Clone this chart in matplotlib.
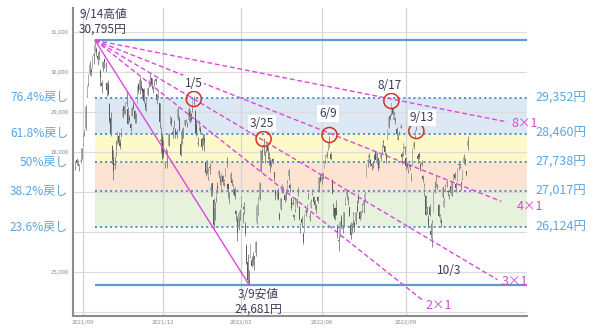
import numpy as np
import pandas as pd
import matplotlib
matplotlib.use("Agg")
import matplotlib.pyplot as plt
import matplotlib.transforms as mtransforms

# Nikkei 225 daily candles, 2021/08/24 - 2022/11/11
holidays = ['2021-09-20', '2021-09-23', '2021-11-03', '2021-11-23', '2021-12-31',
            '2022-01-03', '2022-01-10', '2022-02-11', '2022-02-23', '2022-03-21',
            '2022-04-29', '2022-05-03', '2022-05-04', '2022-05-05', '2022-07-18',
            '2022-08-11', '2022-09-19', '2022-09-23', '2022-10-10', '2022-11-03']

opens = [
    27620, 27810, 27700, 27600, 27770, 27830,
    28180, 28470, 28610, 29390, 29720, 29960, 30060, 30130, 30390, 30530, 30580, 30410, 30460, 30030, 29720, 30100, 30330, 30160, 29720, 29680,
    29210, 28850, 28140, 27840, 27700, 28000, 28220, 28400, 28220, 28420, 28870, 29150, 29030, 29200, 29080, 28850, 28690, 28900, 29170, 29030, 28900,
    29230, 29690, 29560, 29660, 29600, 29570, 29200, 29080, 29420, 29720, 29740, 29840, 29620, 29720, 29830, 29460, 29410, 29220, 28300, 28380,
    28060, 27720, 28010, 27920, 28160, 28750, 28820, 28510, 28600, 28550, 28510, 28820, 28830, 28210, 28280, 28550, 28680, 28770, 28710, 28790, 29010, 28960,
    29100, 29290, 29020, 28710, 28200, 28590, 28580, 28320, 28350, 28330, 27760, 27540, 27380, 27630, 27030, 27220, 26790, 26590, 26880,
    27140, 27420, 27310, 27080, 27400, 27230, 27430, 27700, 27210, 26880, 27290, 27300, 27000, 27070, 26520, 26300, 26130, 26360,
    26680, 26410, 26630, 26170, 25640, 25250, 24780, 25370, 25300, 25360, 25390, 25470, 26240, 26470, 26830, 27520, 28070, 28170, 27900, 28110, 28150, 27880,
    27780, 27730, 27820, 27490, 27040, 26980, 27040, 26460, 26580, 27010, 26990, 26930, 26890, 27020, 27400, 27180, 26860, 26720, 26420, 26540,
    26700, 27010, 26620, 26100, 26320, 25960, 25990, 26480, 26580, 26890, 26340, 26620, 26980, 26880, 26760, 26630, 26870, 27030, 27380,
    27300, 27370, 27600, 27790, 27880, 28100, 28160, 27950, 27300, 26660, 26610, 26600, 26130, 25800, 25900, 26370, 26080, 26190, 26700, 26900, 26800, 26620,
    26180, 26000, 26310, 26230, 26270, 26640, 26860, 26500, 26370, 26560, 26680, 26820, 27370, 27740, 27850, 27800, 27710, 27640, 27930, 28000,
    27740, 27840, 27630, 27850, 28000, 28250, 28150, 27960, 28350, 28620, 28890, 28970, 29100, 28860, 28790, 28580, 28360, 28460, 28600, 27950, 27940, 28120,
    27850, 27700, 27560, 27680, 27390, 27690, 28120, 28400, 28590, 27900, 27940, 27690, 27730, 27410, 26980, 26900, 26500, 26360, 26630, 26020,
    25850, 26510, 27110, 27210, 27150, 26670, 26270, 26280, 26870, 26630, 27080, 27220, 27020, 26870, 27160, 26960, 27330, 27440, 27200, 27290,
    27690, 27620, 27230, 27350, 27730, 27800, 27520, 28150,
]
highs = [
    27780, 27850, 27800, 27700, 27850, 28110,
    28480, 28570, 29180, 29680, 29940, 30270, 30110, 30400, 30500, 30795, 30620, 30480, 30560, 30080, 29790, 30270, 30350, 30260, 29740, 29800,
    29230, 28990, 28170, 28050, 27890, 28300, 28530, 28490, 28330, 28600, 29100, 29150, 29260, 29490, 29120, 28930, 28730, 29120, 29240, 29050, 28970,
    29660, 29720, 29880, 29800, 29610, 29600, 29260, 29330, 29630, 29790, 29960, 29840, 29660, 29790, 29850, 29460, 29540, 29230, 28630, 28440,
    28290, 27760, 28100, 28040, 28480, 28890, 28870, 28620, 28800, 28590, 28570, 29120, 28890, 28290, 28600, 28620, 28800, 28830, 28760, 29120, 29040, 28980,
    29320, 29388, 29050, 28820, 28370, 28800, 28650, 28340, 28440, 28440, 27800, 27800, 27590, 27720, 27230, 27220, 26860, 26750, 27050,
    27240, 27560, 27420, 27480, 27420, 27330, 27610, 27880, 27230, 27000, 27500, 27330, 27200, 27130, 26550, 26410, 26500, 26580,
    26900, 26500, 26740, 26240, 25690, 25450, 25040, 25700, 25400, 25490, 25410, 25780, 26710, 26880, 27260, 28050, 28130, 28338, 28030, 28250, 28160, 28000,
    27860, 27800, 27840, 27500, 27040, 27010, 27090, 26500, 26850, 27200, 27140, 26960, 27070, 27290, 27580, 27220, 26860, 26830, 26460, 26870,
    26850, 27120, 26640, 26220, 26400, 26000, 26450, 26580, 26690, 26980, 26490, 26830, 27080, 26900, 26800, 26700, 26900, 27370, 27460,
    27500, 27480, 27770, 27930, 28020, 28260, 28389, 27990, 27320, 26720, 26620, 26800, 26190, 25900, 26280, 26420, 26200, 26500, 26880, 27060, 26900, 26620,
    26250, 26230, 26500, 26280, 26500, 26800, 26980, 26520, 26530, 26720, 26820, 27000, 27700, 27830, 27980, 27820, 27720, 27780, 27940, 28020,
    28000, 27860, 27790, 27960, 28180, 28300, 28160, 27970, 28570, 28890, 28950, 29222, 29130, 29000, 28880, 28620, 28420, 28520, 28690, 27990, 28230, 28140,
    27870, 27760, 27630, 27680, 27480, 28090, 28270, 28560, 28659, 27930, 28000, 27720, 27810, 27420, 27230, 26930, 26660, 26420, 26710, 26230,
    26300, 26990, 27280, 27400, 27200, 26700, 26450, 26340, 27150, 26850, 27190, 27300, 27040, 26960, 27180, 27270, 27440, 27500, 27240, 27600,
    27730, 27730, 27280, 27550, 27960, 27840, 27520, 28390,
]
lows = [
    27560, 27680, 27640, 27530, 27730, 27820,
    28150, 28390, 28560, 29370, 29650, 29920, 29890, 30110, 30200, 30500, 30400, 30180, 30310, 29650, 29480, 30020, 30100, 30000, 29400, 29420,
    28720, 28400, 27700, 27290, 27580, 27890, 28200, 28170, 28080, 28380, 28840, 28940, 28960, 29150, 28700, 28750, 28510, 28890, 29050, 28730, 28720,
    29220, 29470, 29440, 29550, 29350, 29220, 29040, 29020, 29400, 29620, 29650, 29580, 29470, 29640, 29700, 29200, 29350, 28600, 27970, 27820,
    27880, 27590, 27950, 27600, 28150, 28700, 28640, 28360, 28600, 28360, 28350, 28790, 28520, 27890, 28190, 28360, 28650, 28740, 28620, 28780, 28730, 28780,
    29000, 29180, 28440, 28410, 28150, 28560, 28450, 28040, 28180, 28030, 27400, 27440, 27290, 27440, 26890, 26910, 26044, 26310, 26760,
    26980, 27350, 27170, 27010, 27170, 27140, 27400, 27620, 26850, 26720, 27250, 27180, 26940, 26830, 26280, 25780, 26050, 26300,
    26620, 26230, 26460, 25890, 25210, 24760, 24681, 25340, 25120, 25170, 25060, 25390, 26210, 26420, 26790, 27500, 27800, 27950, 27730, 28000, 27900, 27680,
    27510, 27630, 27700, 27280, 26790, 26820, 26790, 26300, 26560, 26970, 26980, 26760, 26790, 27010, 27300, 26990, 26550, 26680, 26300, 26510,
    26620, 26900, 26290, 25980, 26150, 25690, 25990, 26390, 26510, 26830, 26270, 26590, 26920, 26690, 26570, 26470, 26730, 27010, 27250,
    27210, 27330, 27590, 27720, 27860, 28050, 28130, 27800, 26940, 26400, 26290, 26420, 25850, 25520, 25880, 26100, 25980, 26160, 26670, 26830, 26680, 26390,
    25820, 25980, 26180, 25990, 26200, 26490, 26720, 26300, 26370, 26490, 26470, 26770, 27370, 27620, 27790, 27650, 27540, 27590, 27750, 27760,
    27710, 27530, 27600, 27770, 27950, 28120, 27930, 27730, 28330, 28610, 28800, 28930, 28820, 28790, 28700, 28400, 28300, 28420, 28590, 27700, 27900, 27940,
    27560, 27600, 27480, 27550, 27270, 27680, 28080, 28370, 28550, 27730, 27830, 27520, 27650, 27250, 26900, 26420, 26440, 26090, 26400, 25860,
    25621, 26500, 26970, 27160, 27070, 26380, 26250, 26120, 26850, 26620, 27050, 27130, 26900, 26830, 26930, 26900, 27290, 27330, 27000, 27280,
    27540, 27590, 27050, 27310, 27710, 27670, 27400, 28060,
]
closes = [
    27732, 27724, 27742, 27641, 27789, 28089,
    28451, 28543, 29128, 29659, 29916, 30181, 30008, 30381, 30447, 30670, 30511, 30323, 30500, 29839, 29639, 30248, 30240, 30183, 29544, 29452,
    28771, 28444, 27822, 27528, 27678, 28048, 28498, 28230, 28140, 28550, 29068, 29025, 29215, 29255, 28708, 28804, 28600, 29106, 29098, 28820, 28892,
    29647, 29520, 29794, 29611, 29507, 29286, 29106, 29277, 29610, 29777, 29808, 29688, 29598, 29745, 29774, 29303, 29499, 28751, 28283, 27821,
    27935, 27753, 28029, 27927, 28455, 28860, 28725, 28437, 28640, 28432, 28459, 29066, 28545, 27937, 28517, 28562, 28798, 28782, 28676, 29069, 28906, 28791,
    29301, 29332, 28487, 28478, 28222, 28765, 28489, 28124, 28333, 28257, 27467, 27772, 27522, 27588, 27131, 27011, 26170, 26717, 27001,
    27078, 27533, 27241, 27439, 27248, 27284, 27579, 27696, 27079, 26865, 27460, 27232, 27122, 26910, 26449, 25970, 26476, 26526,
    26844, 26393, 26577, 25985, 25221, 24790, 24717, 25690, 25162, 25307, 25346, 25762, 26652, 26827, 27224, 28040, 28110, 28149, 27943, 28252, 28027, 27821,
    27665, 27736, 27787, 27350, 26888, 26985, 26821, 26334, 26843, 27172, 27093, 26799, 26985, 27217, 27553, 27105, 26590, 26700, 26386, 26847,
    26818, 27003, 26319, 26167, 26213, 25748, 26427, 26547, 26659, 26911, 26402, 26739, 27001, 26748, 26677, 26604, 26781, 27369, 27279,
    27457, 27413, 27761, 27915, 27943, 28234, 28246, 27824, 26987, 26629, 26326, 26431, 25963, 25771, 26246, 26149, 26171, 26491, 26871, 27049, 26804, 26393,
    25935, 26153, 26423, 26107, 26490, 26517, 26812, 26336, 26478, 26643, 26788, 26961, 27680, 27803, 27915, 27700, 27655, 27716, 27815, 27802,
    27993, 27594, 27742, 27932, 28176, 28249, 27999, 27819, 28547, 28871, 28868, 29222, 28942, 28930, 28795, 28452, 28313, 28479, 28641, 27878, 28195, 28091,
    27661, 27650, 27619, 27626, 27430, 28065, 28214, 28542, 28614, 27818, 27875, 27567, 27688, 27313, 27153, 26431, 26571, 26173, 26422, 25937,
    26215, 26992, 27120, 27311, 27116, 26401, 26397, 26237, 27090, 26775, 27156, 27257, 27006, 26891, 26974, 27250, 27432, 27345, 27105, 27587,
    27678, 27663, 27199, 27527, 27872, 27716, 27446, 28263,
]

# retracement levels as printed on the chart
fib_prices = [29352, 28460, 27738, 27017, 26124]
fib_names = ['76.4%戻し', '61.8%戻し', '50%戻し', '38.2%戻し', '23.6%戻し']
band_colors = ['#dde8f5', '#fdf9c8', '#fde3d2', '#e7f2dd']

# Gann fan lines: fraction of the 1x1 slope, label, end position (trading day index)
fan_ratios = [1 / 8, 2 / 8, 3 / 8, 4 / 8, 1]
fan_names = ['8×1', '4×1', '3×1', '2×1', '']
fan_ends = [328, 323.5, 320.5, 263.5, None]
fan_offsets = [(3, -1), (11, -4), (3, -1), (2, -4), (0, 0)]

# circled touch points
touch_dates = ['2022-01-05', '2022-03-25', '2022-06-09', '2022-08-17', '2022-09-13']
touch_values = [29325, 28325, 28425, 29275, 28525]
touch_names = ['1/5', '3/25', '6/9', '8/17', '9/13']
touch_offsets = [(0, 11.5), (-1, 11.5), (-1, 15.5), (-1, 11.5), (4, 9.5)]

tick_months = ['2021-09', '2021-12', '2022-03', '2022-06', '2022-09']
tick_names = ['2021/09', '2021/12', '2022/03', '2022/06', '2022/09']

plt.rcParams['font.family'] = ['Noto Sans CJK JP', 'DejaVu Sans']

dates = pd.bdate_range('2021-08-24', '2022-11-11', freq='C', holidays=holidays)
o = np.array(opens)
h = np.array(highs)
l = np.array(lows)
c = np.array(closes)
x = np.arange(len(dates))

fig = plt.figure(figsize=(6.0, 3.29), dpi=100)
ax = fig.add_axes([73 / 600, 13 / 329, 454 / 600, 308 / 329])
xmin, xmax = -1.7, 343
ax.set_xlim(xmin, xmax)
ax.set_ylim(23900, 31600)

hi_i = int(np.argmax(h))
lo_i = int(np.argmin(l))
hi, lo = h[hi_i], l[lo_i]

# grid
for v in range(24000, 31001, 1000):
    ax.axhline(v, color='#dcdcdc', lw=0.9, zorder=1)
tick_idx = [int(np.searchsorted(dates, pd.Timestamp(m + '-01'))) for m in tick_months]
for t in tick_idx:
    ax.axvline(t, color='#d4d4d4', lw=0.9, zorder=1)

# retracement bands
for i, col in enumerate(band_colors):
    ax.fill_between([hi_i, xmax], fib_prices[i + 1], fib_prices[i], color=col, lw=0, zorder=0.5)

# candles
up = c >= o
ax.vlines(x, l, h, color='#7a7a7a', lw=0.6, zorder=2)
ax.bar(x, np.maximum(np.abs(c - o), 15), bottom=np.minimum(o, c), width=0.8,
       color=np.where(up, '#b0b0b0', '#5c5c5c'), lw=0, zorder=3)

# high / low lines
ax.hlines([hi, lo], hi_i, xmax, color='#5b9bd5', lw=1.6, zorder=4)

# retracement lines and labels
ytr = mtransforms.blended_transform_factory(ax.transAxes, ax.transData)
for lev, name in zip(fib_prices, fib_names):
    ax.hlines(lev, hi_i, xmax, color='#4a8fd6', lw=1.4, linestyles=(0, (1, 1.6)), zorder=4)
    ax.text(-0.011, lev, name, transform=ytr, ha='right', va='center',
            fontsize=8.6, color='#5aa7e3')
    ax.text(1.018, lev, f'{lev:,}円', transform=ytr, ha='left', va='center',
            fontsize=9, color='#5aa7e3')

# fan lines
unit = (hi - lo) / (lo_i - hi_i)
fan_col = '#dc48dc'
for r, name, end, off in zip(fan_ratios, fan_names, fan_ends, fan_offsets):
    if end is None:
        end = lo_i
    y_end = hi - unit * r * (end - hi_i)
    ls = '-' if r == 1 else (0, (3.5, 2))
    ax.plot([hi_i, end], [hi, y_end], color=fan_col, lw=1.0, ls=ls, zorder=5)
    if name:
        ax.annotate(name, (end, y_end), xytext=off, textcoords='offset points',
                    ha='left', va='center', fontsize=9, color='#d24ad2', zorder=6)

# touch circles
touch_idx = [int(np.searchsorted(dates, pd.Timestamp(d))) for d in touch_dates]
ax.scatter(touch_idx, touch_values, s=118, facecolors='none', edgecolors='#d0302a',
           linewidths=1.1, zorder=7)
for ti, tv, name, off in zip(touch_idx, touch_values, touch_names, touch_offsets):
    ax.annotate(name, (ti, tv), xytext=off, textcoords='offset points', ha='center',
                va='center', fontsize=8.5, color='#3c3c58', zorder=8,
                bbox=dict(boxstyle='square,pad=0.15', fc='white', ec='none'))

# 10/3 low label
low_oct = int(np.searchsorted(dates, pd.Timestamp('2022-10-03')))
ax.annotate('10/3', (low_oct, l[low_oct]), xytext=(12, -17), textcoords='offset points',
            ha='center', va='center', fontsize=8.5, color='#3c3c58', zorder=8)

# high / low captions
ax.annotate(f'9/14高値\n{hi:,}円', (hi_i, hi), xytext=(-11.5, 13.5), textcoords='offset points',
            ha='left', va='center', fontsize=8.5, color='#3c3c58', linespacing=1.15,
            annotation_clip=False, zorder=8)
ax.annotate(f'3/9安値\n{lo:,}円', (lo_i, lo), xytext=(6.5, -12.5), textcoords='offset points',
            ha='center', va='center', fontsize=8.5, color='#3c3c58', linespacing=1.15,
            zorder=8)

# axes styling
y_labels = {31000: '31,000', 30000: '30,000', 29000: '29,000', 28000: '28,000', 25000: '25,000'}
ax.set_yticks(range(24000, 31001, 1000))
ax.set_yticklabels([y_labels.get(v, '') for v in range(24000, 31001, 1000)])
ax.set_xticks(tick_idx)
ax.set_xticklabels(tick_names)
ax.tick_params(length=0, labelsize=4.3, labelcolor='#8a8a8a', pad=3)
for s in ['top', 'right']:
    ax.spines[s].set_visible(False)
for s in ['left', 'bottom']:
    ax.spines[s].set_color('#8c8c8c')
    ax.spines[s].set_linewidth(1.5)

fig.savefig('out.png', dpi=100, facecolor='white')
